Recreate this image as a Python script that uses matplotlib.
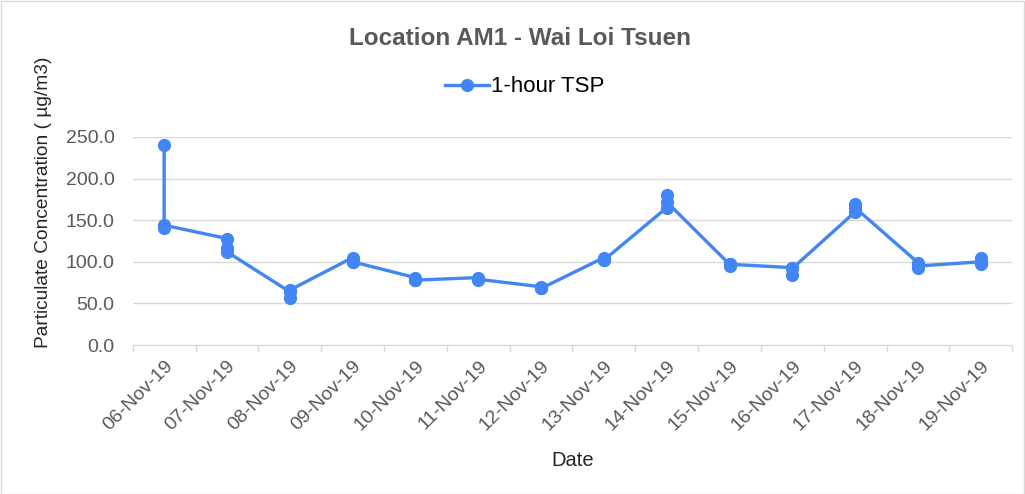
import numpy as np
import matplotlib.pyplot as plt

plt.rcParams['font.family'] = ['Liberation Sans', 'DejaVu Sans']

    #  Dates on the category axis and the three 1-hour readings taken each day

dates = ['06-Nov-19', '07-Nov-19', '08-Nov-19', '09-Nov-19', '10-Nov-19',
         '11-Nov-19', '12-Nov-19', '13-Nov-19', '14-Nov-19', '15-Nov-19',
         '16-Nov-19', '17-Nov-19', '18-Nov-19', '19-Nov-19']

reading1 = [240, 128, 64, 105, 81, 81, 70, 105, 165, 97, 93, 160, 99, 100]
reading2 = [141, 116, 57, 100, 78, 78, 68, 102, 180, 95, 84, 170, 93, 105]
reading3 = [144, 112, 66, 100, 78, 79, 68, 102, 172, 97, 92, 165, 95, 97]

yTicks = [0, 50, 100, 150, 200, 250]

    #  Each day keeps its three readings on the same category position

X = []
Y = []
for i in range(len(dates)):
    X += [i, i, i]
    Y += [reading1[i], reading2[i], reading3[i]]

blue = '#4285F4'
grey = '#595959'

fig = plt.figure(figsize=(10.25, 4.94), dpi=100)
fig.patches.append(plt.Rectangle((0.001, 0.001), 0.998, 0.997, transform=fig.transFigure,
                                 fill=False, edgecolor='#d9d9d9', linewidth=1))

ax = fig.add_axes([0.1295, 0.3016, 0.858, 0.4211])
ax.plot(X, Y, '-o', color=blue, linewidth=2.4, markersize=8.5, label='1-hour TSP')

ax.set_xlim(-0.5, len(dates) - 0.5)
ax.set_ylim(0, 250)
ax.set_yticks(yTicks)
ax.set_yticklabels(['%.1f' % v for v in yTicks], color=grey, fontsize=14)
ax.set_xticks(range(len(dates)))
ax.set_xticklabels(dates, rotation=45, ha='right', rotation_mode='anchor',
                   color=grey, fontsize=14)
ax.tick_params(axis='x', length=0, pad=9)
ax.tick_params(axis='y', length=0, pad=13)

    #  Excel style tick marks sit between the categories

ax.set_xticks(np.arange(-0.5, len(dates)), minor=True)
ax.tick_params(axis='x', which='minor', length=5, color='#d9d9d9', width=1)

ax.grid(axis='y', color='#d9d9d9', linewidth=1)
ax.set_axisbelow(True)
for side in ['top', 'right', 'left']:
    ax.spines[side].set_visible(False)
ax.spines['bottom'].set_color('#d9d9d9')

ax.set_xlabel('Date', fontsize=14.5, color='#262626', labelpad=12)
ax.set_ylabel('Particulate Concentration ( µg/m3)', fontsize=13.8, color='#262626')
ax.yaxis.set_label_coords(-0.092, 0.6875)

fig.text(0.507, 0.923, 'Location AM1 - Wai Loi Tsuen', ha='center', va='center',
         fontsize=17.5, fontweight='bold', color=grey)
fig.legend(loc='center', bbox_to_anchor=(0.512, 0.824), frameon=False, fontsize=16,
           handlelength=2.0, handletextpad=0.1)

fig.savefig('out.png', dpi=100)
